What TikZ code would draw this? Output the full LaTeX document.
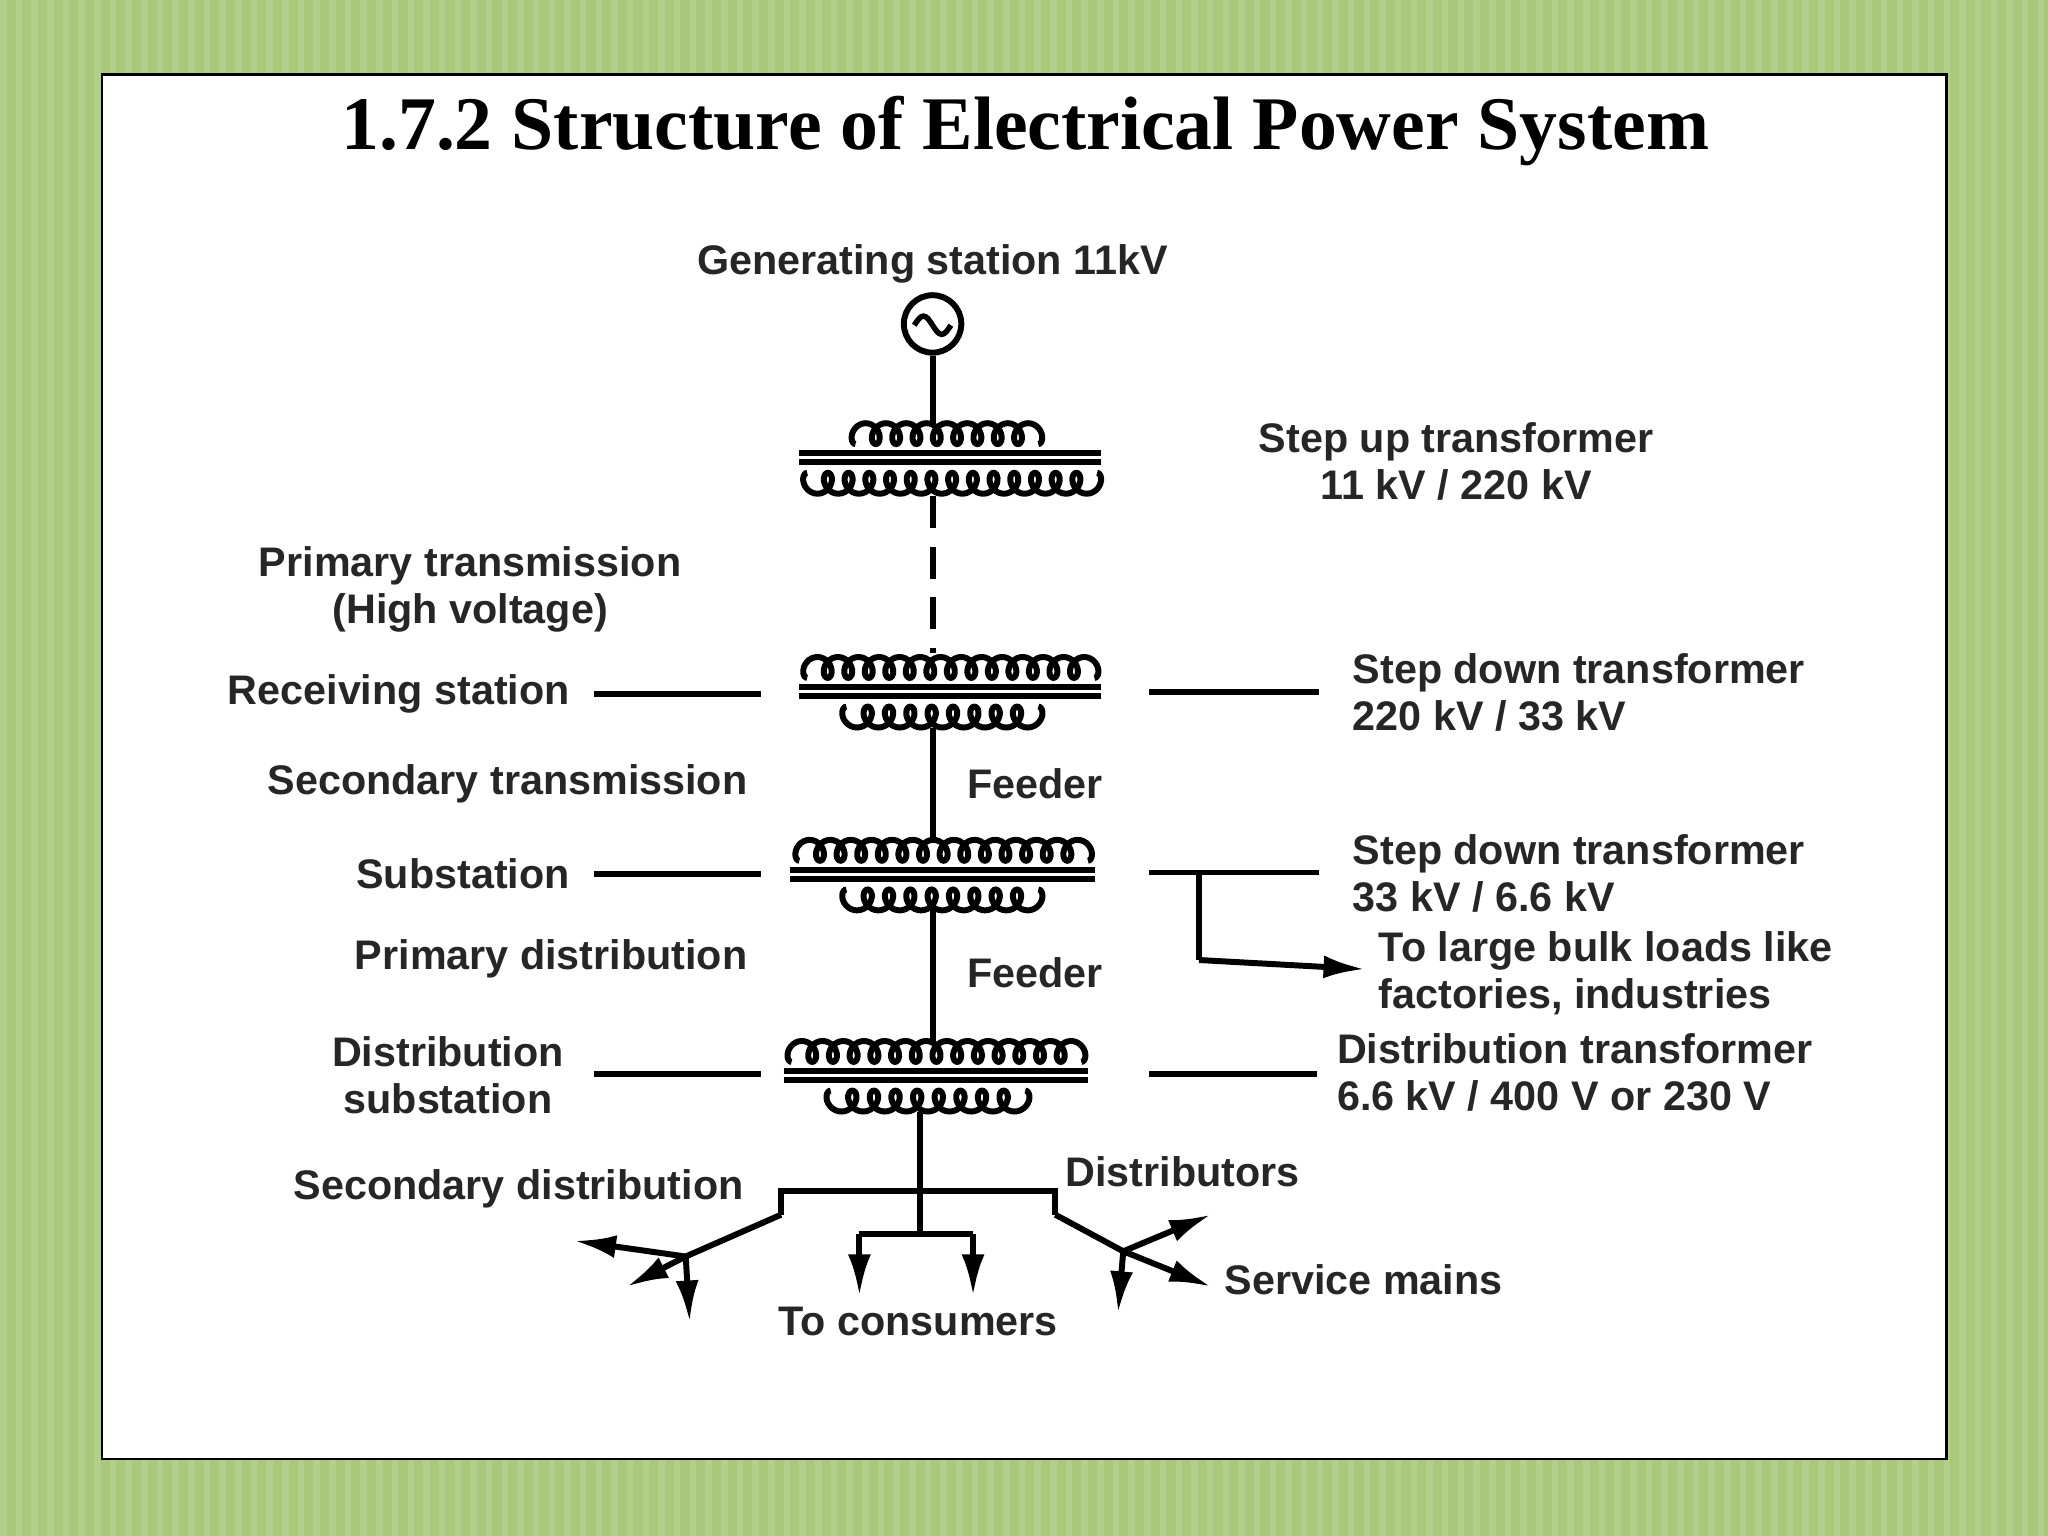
\documentclass[tikz,border=0pt]{standalone}
\usepackage{fontspec}
\setmainfont{Liberation Serif}
\setsansfont{Liberation Sans}
\usetikzlibrary{arrows.meta}
\definecolor{bg}{RGB}{168,201,124}
\newcommand\coilA[4]{\draw[line width=1.3pt] plot[domain=0:#4*360, samples=#4*24+1, variable=\t, smooth] ({#1+(#2-#1)/(#4*360)*\t-2.6*(#2-#1)/(#4*6.283)*sin(\t)},{#3-8*(1-cos(\t))});}
\newcommand\coilB[4]{\draw[line width=1.3pt] plot[domain=0:#4*360, samples=#4*24+1, variable=\t, smooth] ({#1+(#2-#1)/(#4*360)*\t-2.6*(#2-#1)/(#4*6.283)*sin(\t)},{#3+8*(1-cos(\t))});}
\newcommand\core[3]{\draw[line width=1.3pt] (#1,#3) -- (#2,#3) (#1,#3+7) -- (#2,#3+7);}
\begin{document}
\begin{tikzpicture}[x=0.1mm,y=-0.1mm,
  lab/.style={font=\sffamily\bfseries\fontsize{9}{10.2}\selectfont, text=black!85, inner sep=0pt},
  ln/.style={line width=1.3pt},
  arr/.style={line width=1.3pt,-{Latex[length=9pt,width=5pt]}}]
\fill[bg] (0,0) rectangle (1568,1176);
\foreach \i in {0,12,...,1560} \fill[white,opacity=0.12] (\i,0) rectangle (\i+5,1176);
\draw[fill=white, line width=0.6pt] (78,57) rectangle (1490,1117);
\node[font=\bfseries\fontsize{16.5}{19}\selectfont] (title) at (785,100) {1.7.2 Structure of Electrical Power System};
% generator
\node[lab] (gen) at (714,202) {Generating station 11kV};
\node[draw, circle, line width=1.3pt, minimum size=44*0.1mm, inner sep=0pt] (g) at (714,248) {};
\draw[line width=1.2pt] (700,249) sin (707,242) cos (714,249) sin (721,256) cos (728,249);
% transformers
\coordinate (t1b) at (714,380);
\draw[ln] (g.south) -- (714,324);
\coilA{655}{795}{340}{9} \core{612}{843}{347} \coilB{618}{840}{362}{14}
\draw[ln, dash pattern=on 7pt off 4pt] (t1b) -- (714,500);
\coilA{618}{838}{519}{14} \core{612}{843}{526} \coilB{648}{795}{541}{9}
\draw[ln] (714,557) -- (714,643);
\coilA{612}{833}{659}{14} \core{605}{838}{666} \coilB{648}{795}{681}{9}
\draw[ln] (714,697) -- (714,797);
\coilA{606}{828}{813}{14} \core{600}{833}{820} \coilB{636}{785}{835}{9}
% bottom network
\draw[ln] (704,851) -- (704,945);
\draw[ln] (598,930) -- (598,912) -- (808,912) -- (808,930);
\draw[ln] (658,945) -- (745,945);
\draw[arr] (658,945) -- (658,992);
\draw[arr] (745,945) -- (745,992);
\draw[ln] (598,930) -- (525,962);
\draw[arr] (525,962) -- (440,950);
\draw[arr] (525,962) -- (480,985);
\draw[arr] (525,962) -- (528,1012);
\draw[ln] (808,930) -- (860,958);
\draw[arr] (860,958) -- (927,930);
\draw[arr] (860,958) -- (927,985);
\draw[arr] (860,958) -- (856,1005);
% left labels
\node[lab, align=center] (pt) at (360,451) {Primary transmission\\(High voltage)};
\node[lab, anchor=east] (rs) at (437,531) {Receiving station};
\node[lab, anchor=east] (st) at (573,600) {Secondary transmission};
\node[lab, anchor=east] (ss) at (437,669) {Substation};
\node[lab, anchor=east] (pd) at (573,734) {Primary distribution};
\node[lab, align=center] (ds) at (343,823) {Distribution\\substation};
\node[lab, anchor=east] (sd) at (570,910) {Secondary distribution};
\draw[ln] (455,531) -- (583,531);
\draw[ln] (455,669) -- (583,669);
\draw[ln] (455,822) -- (583,822);
% right labels
\node[lab, align=center] (su) at (1115,353) {Step up transformer\\11 kV / 220 kV};
\node[lab, align=left, anchor=west] (sd1) at (1035,530) {Step down transformer\\220 kV / 33 kV};
\node[lab, anchor=west] (f1) at (740,600) {Feeder};
\node[lab, align=left, anchor=west] (sd2) at (1035,669) {Step down transformer\\33 kV / 6.6 kV};
\node[lab, align=left, anchor=west] (bulk) at (1055,745) {To large bulk loads like\\factories, industries};
\node[lab, anchor=west] (f2) at (740,745) {Feeder};
\node[lab, align=left, anchor=west] (dt) at (1023,821) {Distribution transformer\\6.6 kV / 400 V or 230 V};
\node[lab, anchor=west] (dist) at (815,897) {Distributors};
\node[lab, anchor=west] (sm) at (937,980) {Service mains};
\node[lab] (tc) at (703,1012) {To consumers};
\draw[ln] (880,530) -- (1010,530);
\draw[ln] (880,668) -- (1010,668);
\draw[ln] (880,822) -- (1008,822);
\draw[ln] (918,668) -- (918,735);
\draw[arr] (918,735) -- (1045,742);
\end{tikzpicture}
\end{document}
